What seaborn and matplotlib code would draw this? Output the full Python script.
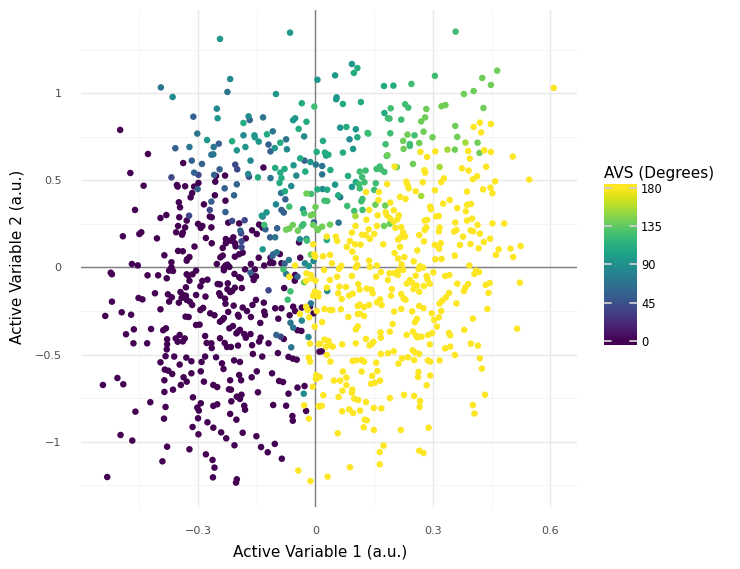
import numpy as np
import pandas as pd
import matplotlib
matplotlib.use("Agg")
import matplotlib.pyplot as plt
import seaborn as sns
from matplotlib.colors import Normalize

# (active variable 1, active variable 2), per AVS level
pts_0 = [
    (-0.499,0.789),(-0.428,0.651),(-0.338,0.599),(-0.133,0.573),(-0.473,0.542),(-0.231,0.527),(-0.254,0.525),
    (-0.256,0.492),(-0.299,0.485),(-0.439,0.469),(-0.354,0.473),(-0.352,0.464),(-0.333,0.466),(-0.310,0.464),
    (-0.315,0.427),(-0.319,0.402),(-0.257,0.414),(-0.230,0.383),(-0.349,0.374),(-0.285,0.362),(-0.346,0.345),
    (-0.461,0.330),(-0.381,0.301),(-0.396,0.284),(-0.348,0.288),(-0.270,0.292),(-0.265,0.288),(-0.329,0.269),
    (-0.223,0.257),(-0.195,0.253),(-0.300,0.250),(-0.289,0.238),(-0.293,0.227),(-0.144,0.246),(-0.135,0.228),
    (-0.351,0.238),(-0.333,0.230),(-0.266,0.230),(-0.356,0.202),(-0.339,0.200),(-0.341,0.188),(-0.162,0.213),
    (-0.150,0.192),(-0.492,0.179),(-0.450,0.192),(-0.445,0.202),(-0.405,0.167),(-0.280,0.169),(-0.178,0.167),
    (-0.229,0.163),(-0.210,0.173),(-0.042,0.144),(-0.265,0.139),(-0.229,0.139),(-0.217,0.154),(-0.206,0.139),
    (-0.204,0.121),(-0.309,0.120),(-0.237,0.112),(-0.351,0.095),(-0.339,0.093),(-0.386,0.070),(-0.322,0.060),
    (-0.328,0.047),(-0.237,0.068),(-0.243,0.058),(-0.206,0.062),(-0.195,0.076),(-0.186,0.085),(-0.145,0.056),
    (-0.115,0.056),(-0.091,0.077),(-0.039,0.056),(-0.368,0.030),(-0.368,0.001),(-0.374,-0.018),(-0.364,-0.020),
    (-0.329,0.039),(-0.469,0.020),(-0.454,0.012),(-0.252,0.020),(-0.234,-0.001),(-0.230,0.011),(-0.225,0.016),
    (-0.220,0.003),(-0.234,-0.016),(-0.180,-0.011),(-0.165,0.020),(-0.155,-0.011),(-0.131,0.011),(-0.116,0.026),
    (-0.108,0.026),(-0.087,0.024),(-0.523,-0.030),(-0.520,-0.039),(-0.429,-0.045),(-0.402,-0.045),(-0.380,-0.062),
    (-0.329,-0.039),(-0.314,-0.039),(-0.305,-0.018),(-0.325,-0.047),(-0.322,-0.076),(-0.289,-0.077),(-0.276,-0.070),
    (-0.294,-0.108),(-0.250,-0.095),(-0.244,-0.097),(-0.224,-0.091),(-0.207,-0.037),(-0.195,-0.056),(-0.191,-0.062),
    (-0.161,-0.047),(-0.152,-0.051),(-0.158,-0.072),(-0.052,-0.043),(-0.053,-0.076),(-0.206,-0.116),(-0.188,-0.118),
    (-0.225,-0.125),(-0.213,-0.135),(-0.218,-0.141),(-0.246,-0.148),(-0.243,-0.162),(-0.331,-0.114),(-0.345,-0.141),
    (-0.338,-0.158),(-0.331,-0.162),(-0.342,-0.174),(-0.410,-0.148),(-0.377,-0.154),(-0.367,-0.171),(-0.374,-0.196),
    (-0.305,-0.158),(-0.281,-0.167),(-0.452,-0.175),(-0.442,-0.183),(-0.520,-0.196),(-0.349,-0.202),(-0.329,-0.186),
    (-0.321,-0.196),(-0.315,-0.215),(-0.231,-0.179),(-0.230,-0.208),(-0.152,-0.186),(-0.132,-0.202),(-0.161,-0.215),
    (-0.209,-0.219),(-0.080,-0.118),(-0.057,-0.225),(-0.035,-0.230),(-0.014,-0.225),(-0.052,-0.250),(-0.103,-0.234),
    (-0.087,-0.234),(-0.186,-0.230),(-0.175,-0.250),(-0.287,-0.232),(-0.294,-0.244),(-0.396,-0.240),(-0.495,-0.257),
    (-0.471,-0.271),(-0.537,-0.278),(-0.269,-0.263),(-0.258,-0.274),(-0.223,-0.255),(-0.198,-0.272),(-0.196,-0.282),
    (-0.131,-0.253),(-0.129,-0.272),(-0.165,-0.284),(-0.095,-0.294),(-0.066,-0.274),(-0.005,-0.263),(-0.332,-0.282),
    (-0.324,-0.284),(-0.234,-0.290),(-0.238,-0.301),(-0.244,-0.311),(-0.305,-0.330),(-0.296,-0.328),(-0.141,-0.318),
    (-0.211,-0.336),(-0.220,-0.349),(-0.464,-0.355),(-0.420,-0.353),(-0.382,-0.349),(-0.389,-0.360),(-0.198,-0.368),
    (-0.193,-0.358),(-0.202,-0.378),(-0.046,-0.360),(-0.036,-0.364),(-0.484,-0.383),(-0.182,-0.382),(-0.178,-0.403),
    (-0.166,-0.382),(-0.282,-0.393),(-0.347,-0.387),(-0.357,-0.407),(-0.352,-0.426),(-0.334,-0.407),(-0.339,-0.424),
    (-0.379,-0.412),(-0.379,-0.441),(-0.380,-0.470),(-0.244,-0.406),(-0.140,-0.402),(-0.144,-0.425),(-0.081,-0.410),
    (-0.120,-0.435),(-0.465,-0.435),(-0.430,-0.435),(-0.278,-0.433),(-0.266,-0.435),(-0.265,-0.462),(-0.232,-0.433),
    (-0.226,-0.456),(-0.216,-0.456),(-0.198,-0.448),(-0.162,-0.446),(-0.383,-0.509),(-0.361,-0.511),(-0.282,-0.511),
    (-0.160,-0.496),(-0.136,-0.511),(-0.096,-0.491),(-0.069,-0.513),(-0.058,-0.523),(-0.048,-0.529),(0.010,-0.483),
    (-0.330,-0.517),(-0.317,-0.538),(-0.254,-0.515),(-0.396,-0.544),(-0.347,-0.557),(-0.291,-0.542),(-0.239,-0.550),
    (-0.235,-0.582),(-0.208,-0.533),(-0.193,-0.542),(-0.385,-0.586),(-0.376,-0.592),(-0.366,-0.611),(-0.293,-0.596),
    (-0.317,-0.607),(-0.150,-0.596),(-0.111,-0.607),(-0.195,-0.617),(-0.163,-0.630),(-0.506,-0.634),(-0.491,-0.670),
    (-0.543,-0.674),(-0.386,-0.647),(-0.337,-0.630),(-0.329,-0.655),(-0.285,-0.655),(-0.218,-0.647),(-0.190,-0.647),
    (-0.093,-0.651),(-0.083,-0.657),(-0.344,-0.674),(-0.261,-0.674),(-0.251,-0.686),(-0.028,-0.680),(-0.046,-0.689),
    (-0.364,-0.701),(-0.386,-0.714),(-0.221,-0.699),(-0.216,-0.701),(-0.147,-0.716),(-0.069,-0.724),(-0.189,-0.730),
    (-0.201,-0.741),(-0.193,-0.754),(-0.313,-0.745),(-0.422,-0.773),(-0.293,-0.779),(-0.215,-0.768),(-0.251,-0.785),
    (-0.261,-0.794),(-0.108,-0.789),(-0.075,-0.793),(-0.182,-0.793),(-0.180,-0.816),(-0.383,-0.800),(-0.302,-0.804),
    (-0.298,-0.821),(-0.460,-0.827),(-0.024,-0.823),(-0.218,-0.840),(-0.059,-0.852),(-0.058,-0.879),(-0.387,-0.867),
    (-0.300,-0.865),(-0.202,-0.873),(-0.276,-0.888),(-0.261,-0.919),(-0.314,-0.915),(-0.241,-0.946),(-0.186,-0.948),
    (-0.299,-0.957),(-0.498,-0.961),(-0.151,-0.968),(-0.228,-0.980),(-0.468,-0.993),(-0.207,-1.020),(-0.104,-1.012),
    (-0.379,-1.028),(-0.139,-1.030),(-0.322,-1.043),(-0.122,-1.060),(-0.280,-1.072),(-0.263,-1.104),(-0.086,-1.097),
    (-0.391,-1.112),(-0.258,-1.148),(-0.262,-1.204),(-0.532,-1.202),(-0.201,-1.215),(-0.203,-1.234),(0.016,-0.481),
]
pts_40 = [
    (-0.299,0.531),(-0.368,0.517),(-0.205,0.590),(-0.200,0.563),(-0.170,0.521),(-0.270,0.330),(-0.323,0.297),
    (-0.213,0.267),(-0.181,0.271),(-0.190,0.196),(-0.189,0.150),(-0.189,0.116),(-0.120,-0.131),(-0.089,-0.397),
]
pts_55 = [
    (-0.168,0.846),(-0.247,0.710),(-0.120,0.705),(-0.115,0.666),(-0.316,0.613),(-0.290,0.594),(-0.028,0.613),
    (-0.310,0.544),(-0.259,0.531),(-0.301,0.450),(-0.201,0.477),(-0.232,0.454),(-0.208,0.414),(-0.266,0.378),
    (-0.230,0.318),(-0.077,0.391),(-0.087,0.330),(-0.081,0.315),(-0.004,0.259),(-0.128,0.219),(-0.098,0.225),
    (-0.192,0.211),(-0.116,0.173),(-0.108,0.076),(-0.110,0.066),(-0.079,0.022),(-0.166,-0.030),(-0.046,-0.053),
    (-0.100,-0.387),(-0.245,0.563),(-0.358,0.684),(-0.312,0.865),
]
pts_70 = [
    (-0.395,1.033),(-0.225,1.007),(-0.134,0.861),(-0.302,0.768),(-0.109,0.781),(-0.075,0.735),(-0.260,0.691),
    (-0.266,0.647),(-0.261,0.649),(0.001,0.590),(-0.115,0.513),(-0.088,0.427),(-0.135,0.292),(-0.103,0.173),
    (-0.099,0.087),(-0.068,0.043),(-0.075,-0.037),(-0.012,-0.206),(-0.064,-0.317),(-0.057,-0.345),(-0.062,-0.458),
    (0.059,0.257),(0.017,0.582),(0.063,0.403),(0.017,0.534),(-0.322,0.691),
]
pts_85 = [
    (-0.218,1.081),(-0.365,0.978),(-0.252,0.911),(-0.171,0.867),(-0.184,0.758),(-0.029,0.752),(-0.073,0.678),
    (-0.166,0.613),(-0.172,0.536),(-0.049,0.527),(-0.062,0.467),(-0.101,0.362),(-0.040,0.162),(-0.023,0.164),
    (-0.027,0.024),(-0.005,0.037),(-0.035,-0.305),(-0.018,-0.399),(-0.030,-0.724),(0.030,-0.135),(0.087,0.735),
    (0.018,0.450),
]
pts_95 = [
    (-0.244,1.311),(-0.065,1.347),(-0.250,0.856),(-0.057,0.845),(-0.052,0.856),(-0.277,0.731),(-0.156,0.758),
    (-0.155,0.747),(-0.104,0.685),(-0.145,0.722),(-0.201,0.672),(-0.179,0.691),(-0.013,0.605),(-0.056,0.586),
    (-0.032,0.334),(-0.125,0.316),(-0.137,0.297),(-0.135,0.104),(-0.017,0.009),(-0.101,0.995),(0.005,1.077),
    (0.093,1.167),(0.050,1.102),(0.054,0.976),(0.053,0.965),(0.063,0.802),(0.103,0.793),(0.096,0.680),
    (0.027,0.642),(0.050,0.475),(0.093,0.462),
]
pts_110 = [
    (-0.035,0.942),(-0.023,0.836),(-0.043,0.795),(-0.184,0.829),(-0.124,0.764),(-0.213,0.724),(-0.090,0.716),
    (0.003,0.663),(-0.039,0.626),(-0.103,0.571),(-0.079,0.565),(-0.090,0.544),(-0.026,0.550),(-0.147,0.517),
    (-0.087,0.513),(-0.092,0.485),(0.005,0.448),(-0.078,0.437),(0.107,1.144),(0.098,1.116),(0.175,1.041),
    (0.199,1.043),(0.116,0.949),(0.070,0.938),(0.176,0.886),(0.079,0.806),(0.107,0.747),(0.019,0.726),
    (0.070,0.659),(0.024,0.659),(0.033,0.647),(0.038,0.559),(0.083,0.525),(0.103,0.490),(0.030,0.446),
    (0.058,0.414),(0.029,0.158),
]
pts_125 = [
    (-0.003,0.923),(-0.011,0.422),(-0.067,0.349),(-0.029,0.311),(-0.131,0.244),(-0.031,0.248),(-0.035,0.238),
    (-0.022,0.154),(-0.082,-0.011),(-0.064,-0.137),(-0.071,-0.185),(0.358,1.353),(0.305,1.099),(0.245,1.053),
    (0.229,0.936),(0.237,0.917),(0.192,0.913),(0.185,0.856),(0.189,0.854),(0.219,0.848),(0.133,0.772),
    (0.135,0.768),(0.191,0.770),(0.253,0.758),(0.241,0.708),(0.241,0.697),(0.179,0.707),(0.182,0.640),
    (0.164,0.579),(0.156,0.565),(0.167,0.563),(0.176,0.548),(0.113,0.550),(0.128,0.556),(0.119,0.519),
    (0.111,0.477),(0.125,0.489),(0.154,0.483),(0.113,0.454),(0.150,0.445),(0.120,0.393),(0.117,0.380),
    (0.023,0.383),(0.030,0.381),(0.081,0.353),(0.099,0.324),(0.120,0.330),
]
pts_140 = [
    (-0.023,0.424),(0.000,0.347),(-0.006,0.305),(-0.012,0.299),(-0.058,0.244),(-0.006,0.244),(-0.067,0.223),
    (-0.075,0.217),(-0.045,0.211),(0.005,0.221),(-0.012,0.074),(-0.029,-0.085),(0.464,1.129),(0.426,1.087),
    (0.448,1.047),(0.404,1.012),(0.379,0.995),(0.283,0.909),(0.322,0.925),(0.332,0.932),(0.429,0.915),
    (0.280,0.861),(0.270,0.838),(0.357,0.812),(0.235,0.762),(0.276,0.779),(0.299,0.747),(0.362,0.749),
    (0.224,0.726),(0.265,0.714),(0.225,0.680),(0.356,0.676),(0.414,0.716),(0.419,0.657),(0.184,0.644),
    (0.249,0.594),(0.208,0.575),(0.153,0.360),(0.178,0.355),(0.175,0.238),(0.190,0.251),(0.037,0.246),
    (0.017,0.234),(0.006,0.215),
]
pts_155 = [
    (0.383,0.716),(0.337,0.676),(0.317,0.577),(0.270,0.410),(0.102,0.295),
]
pts_180 = [
    (0.609,1.030),(0.420,0.831),(0.448,0.823),(0.404,0.806),(0.423,0.775),(0.390,0.668),(0.431,0.672),(0.448,0.663),
    (0.268,0.663),(0.306,0.666),(0.285,0.634),(0.504,0.636),(0.394,0.624),(0.202,0.579),(0.436,0.578),(0.374,0.569),
    (0.391,0.556),(0.278,0.558),(0.280,0.544),(0.413,0.523),(0.402,0.506),(0.328,0.511),(0.321,0.490),(0.232,0.492),
    (0.235,0.473),(0.238,0.454),(0.274,0.489),(0.546,0.504),(0.459,0.494),(0.183,0.479),(0.256,0.437),(0.305,0.443),
    (0.428,0.448),(0.447,0.458),(0.452,0.426),(0.129,0.433),(0.162,0.433),(0.387,0.435),(0.216,0.405),(0.230,0.393),
    (0.161,0.387),(0.343,0.387),(0.326,0.366),(0.397,0.364),(0.387,0.359),(0.191,0.372),(0.293,0.349),(0.295,0.334),
    (0.362,0.341),(0.137,0.330),(0.200,0.328),(0.384,0.322),(0.179,0.316),(0.182,0.301),(0.159,0.299),(0.213,0.299),
    (0.308,0.293),(0.315,0.295),(0.190,0.282),(0.200,0.263),(0.209,0.276),(0.130,0.274),(0.400,0.280),(0.387,0.269),
    (0.279,0.269),(0.285,0.273),(0.357,0.258),(0.414,0.244),(0.452,0.253),(0.482,0.252),(0.102,0.238),(0.157,0.238),
    (0.219,0.231),(0.204,0.227),(0.317,0.229),(0.315,0.207),(0.283,0.230),(0.279,0.215),(0.136,0.219),(0.093,0.200),
    (0.360,0.215),(0.354,0.206),(0.396,0.213),(0.403,0.207),(0.420,0.194),(0.224,0.200),(0.224,0.181),(0.218,0.173),
    (0.229,0.177),(0.211,0.160),(0.119,0.188),(0.129,0.185),(0.150,0.192),(0.139,0.164),(0.265,0.186),(0.377,0.177),
    (0.052,0.177),(0.029,0.177),(0.055,0.152),(0.446,0.165),(0.088,0.152),(0.277,0.150),(0.320,0.139),(0.430,0.146),
    (0.396,0.135),(0.369,0.129),(0.101,0.133),(0.115,0.131),(0.173,0.133),(0.305,0.129),(0.316,0.108),(0.216,0.118),
    (0.080,0.118),(0.417,0.110),(0.468,0.104),(0.498,0.108),(0.524,0.123),(0.260,0.098),(0.094,0.091),(0.202,0.083),
    (0.019,0.064),(0.037,0.072),(0.461,0.072),(0.505,0.060),(0.356,0.068),(0.103,0.053),(0.137,0.039),(0.227,0.060),
    (0.211,0.051),(0.306,0.047),(0.322,0.049),(-0.006,0.133),(-0.003,0.076),(-0.001,0.062),(-0.052,0.011),(-0.067,-0.053),
    (-0.024,-0.077),(-0.023,-0.034),(-0.012,-0.043),(-0.010,-0.062),(0.000,-0.076),(-0.002,-0.139),(0.003,-0.154),
    (-0.006,-0.162),(-0.040,-0.267),(-0.020,-0.244),(-0.024,-0.225),(-0.016,-0.286),(0.003,-0.250),(-0.002,-0.339),
    (-0.014,-0.437),(0.008,-0.439),(-0.017,-0.517),(-0.014,-0.540),(0.002,-0.617),(0.001,-0.640),(-0.007,-0.684),
    (-0.029,-0.791),(0.008,-0.796),(-0.017,-0.867),(-0.044,-1.165),(-0.013,-1.225),
    (0.042,0.024),(0.251,0.035),(0.107,0.014),(0.103,0.001),(0.139,0.003),(0.157,0.011),(0.066,0.009),(0.060,-0.008),
    (0.022,-0.014),(0.220,0.018),(0.224,-0.014),(0.212,-0.018),(0.201,-0.033),(0.189,-0.033),(0.210,-0.043),(0.167,-0.026),
    (0.263,-0.009),(0.267,0.007),(0.275,-0.001),(0.301,-0.028),(0.393,0.011),(0.410,-0.018),(0.418,-0.026),(0.406,-0.037),
    (0.342,-0.043),(0.331,-0.049),(0.093,-0.049),(0.155,-0.053),(0.055,-0.053),(0.037,-0.072),(0.185,-0.072),(0.256,-0.047),
    (0.284,-0.049),(0.286,-0.068),(0.292,-0.093),(0.241,-0.072),(0.233,-0.093),(0.247,-0.087),(0.259,-0.104),(0.277,-0.106),
    (0.522,-0.087),(0.445,-0.089),(0.435,-0.100),(0.362,-0.093),(0.390,-0.095),(0.383,-0.114),(0.379,-0.135),(0.109,-0.095),
    (0.061,-0.110),(0.078,-0.112),(0.029,-0.116),(0.113,-0.127),(0.131,-0.121),(0.143,-0.127),(0.146,-0.148),(0.195,-0.124),
    (0.250,-0.124),(0.265,-0.139),(0.058,-0.148),(0.095,-0.150),(0.086,-0.161),(0.193,-0.162),(0.219,-0.152),(0.442,-0.146),
    (0.341,-0.146),(0.333,-0.171),(0.324,-0.190),(0.317,-0.207),(0.007,-0.148),(0.007,-0.167),(0.067,-0.181),(0.165,-0.183),
    (0.157,-0.200),(0.225,-0.177),(0.230,-0.185),(0.360,-0.206),(0.108,-0.221),(0.113,-0.213),(0.124,-0.227),(0.137,-0.215),
    (0.169,-0.215),(0.219,-0.238),(0.265,-0.221),(0.276,-0.234),(0.439,-0.238),(0.321,-0.250),(0.023,-0.238),(0.037,-0.244),
    (0.043,-0.244),(0.065,-0.240),(0.201,-0.253),(0.247,-0.252),(0.297,-0.263),(0.108,-0.267),(0.113,-0.265),(0.124,-0.278),
    (0.084,-0.284),(0.315,-0.286),(0.303,-0.301),(0.402,-0.294),(0.259,-0.295),(0.254,-0.314),(0.017,-0.313),(0.197,-0.324),
    (0.108,-0.338),(0.103,-0.355),(0.310,-0.339),(0.515,-0.351),(0.380,-0.358),(0.190,-0.368),(0.166,-0.372),(0.167,-0.403),
    (0.249,-0.368),(0.257,-0.391),(0.260,-0.401),(0.271,-0.397),(0.298,-0.376),(0.288,-0.387),(0.341,-0.376),(0.344,-0.389),
    (0.233,-0.387),(0.129,-0.410),(0.023,-0.414),(0.033,-0.421),(0.148,-0.427),(0.142,-0.441),(0.138,-0.447),(0.103,-0.435),
    (0.068,-0.441),(0.011,-0.439),(0.027,-0.454),(0.037,-0.446),(0.044,-0.454),(0.292,-0.441),(0.397,-0.437),(0.415,-0.448),
    (0.331,-0.464),(0.344,-0.454),(0.248,-0.475),(0.254,-0.487),(0.265,-0.496),(0.200,-0.481),(0.185,-0.492),(0.167,-0.496),
    (0.029,-0.502),(0.356,-0.502),(0.236,-0.515),(0.221,-0.521),(0.252,-0.531),(0.420,-0.521),(0.038,-0.540),(0.095,-0.536),
    (0.105,-0.533),(0.118,-0.531),(0.124,-0.540),(0.155,-0.546),(0.212,-0.552),(0.287,-0.533),(0.293,-0.540),(0.317,-0.533),
    (0.425,-0.580),(0.070,-0.597),(0.118,-0.597),(0.158,-0.594),(0.263,-0.599),(0.145,-0.622),(0.262,-0.628),(0.293,-0.620),
    (0.011,-0.628),(0.079,-0.632),(0.047,-0.649),(0.063,-0.649),(0.165,-0.649),(0.152,-0.661),(0.142,-0.667),(0.079,-0.674),
    (0.284,-0.676),(0.094,-0.701),(0.093,-0.718),(0.069,-0.707),(0.020,-0.733),(0.226,-0.731),(0.252,-0.737),(0.433,-0.730),
    (0.059,-0.743),(0.099,-0.752),(0.109,-0.760),(0.129,-0.772),(0.190,-0.749),(0.267,-0.766),(0.010,-0.797),(0.016,-0.793),
    (0.402,-0.789),(0.266,-0.800),(0.149,-0.806),(0.168,-0.808),(0.086,-0.814),(0.068,-0.825),(0.096,-0.835),(0.114,-0.821),
    (0.406,-0.838),(0.126,-0.873),(0.131,-0.877),(0.123,-0.917),(0.149,-0.932),(0.218,-0.932),(0.289,-0.919),(0.057,-0.951),
    (0.174,-1.022),(0.265,-1.051),(0.276,-1.064),(0.164,-1.059),(0.164,-1.129),(0.088,-1.146),(0.031,-1.200),
]
avs_groups = {0: pts_0, 40: pts_40, 55: pts_55, 70: pts_70, 85: pts_85, 95: pts_95,
              110: pts_110, 125: pts_125, 140: pts_140, 155: pts_155, 180: pts_180}

x_ticks = [-0.3, 0, 0.3, 0.6]
x_labels = ["\u22120.3", "0", "0.3", "0.6"]
y_ticks = [-1, -0.5, 0, 0.5, 1]
y_labels = ["\u22121", "\u22120.5", "0", "0.5", "1"]
x_minor = [-0.45, -0.15, 0.15, 0.45]
y_minor = [-1.25, -0.75, -0.25, 0.25, 0.75, 1.25]
cbar_ticks = [0, 45, 90, 135, 180]

rows = []
for avs, pts in avs_groups.items():
    for a1, a2 in pts:
        rows.append({"a1": a1, "a2": a2, "avs": avs})
df = pd.DataFrame(rows)

sns.set_style("white")
fig = plt.figure(figsize=(7.4, 5.69), dpi=100)
ax = fig.add_axes([81 / 740, 1 - 507 / 569, 496 / 740, 497 / 569])

ax.set_xticks(x_ticks, x_labels)
ax.set_yticks(y_ticks, y_labels)
ax.set_xticks(x_minor, minor=True)
ax.set_yticks(y_minor, minor=True)
ax.grid(which="major", color="#e8e8e8", lw=1.0)
ax.grid(which="minor", color="#f3f3f3", lw=0.6)
ax.set_axisbelow(True)
ax.axhline(0, color="#7f7f7f", lw=1.0, zorder=1.5)
ax.axvline(0, color="#7f7f7f", lw=1.0, zorder=1.5)

sns.scatterplot(data=df, x="a1", y="a2", hue="avs", hue_norm=(0, 180), palette="viridis",
                s=22, linewidth=0, legend=False, ax=ax, zorder=3)

ax.set_xlim(-0.599, 0.668)
ax.set_ylim(-1.374, 1.477)
ax.tick_params(which="both", length=0, labelsize=8, labelcolor="#4d4d4d", pad=14)
ax.set_xlabel("Active Variable 1 (a.u.)", fontsize=11, color="black", va="center")
ax.set_ylabel("Active Variable 2 (a.u.)", fontsize=11, color="black", va="center")
ax.xaxis.set_label_coords((320 - 81) / 496, (507 - 552) / 497)
ax.yaxis.set_label_coords((17 - 81) / 496, (507 - 256.5) / 497)
sns.despine(ax=ax, left=True, bottom=True)

# colour bar, plotnine look: ticks on both inner edges
cax = fig.add_axes([604 / 740, 1 - 345 / 569, 33 / 740, 161 / 569])
grad = np.linspace(-4.8, 184.8, 200).reshape(-1, 1)
cax.pcolormesh([0, 1], np.linspace(-4.8, 184.8, 201), grad, cmap="viridis", norm=Normalize(0, 180))
cax.set_xlim(0, 1)
cax.set_ylim(-4.8, 184.8)
for t in cbar_ticks:
    cax.plot([0, 0.2], [t, t], color="#cccccc", lw=1.3)
    cax.plot([0.8, 1], [t, t], color="#cccccc", lw=1.3)
cax.set_xticks([])
cax.yaxis.tick_right()
cax.set_yticks(cbar_ticks, [str(t) for t in cbar_ticks])
cax.tick_params(length=0, labelsize=8.3, labelcolor="black", pad=3)
sns.despine(ax=cax, left=True, bottom=True, right=True, top=True)
fig.text(604 / 740, 1 - 181 / 569, "AVS (Degrees)", fontsize=11, color="black", ha="left", va="bottom")

fig.savefig("out.png", dpi=100)
plt.close(fig)
